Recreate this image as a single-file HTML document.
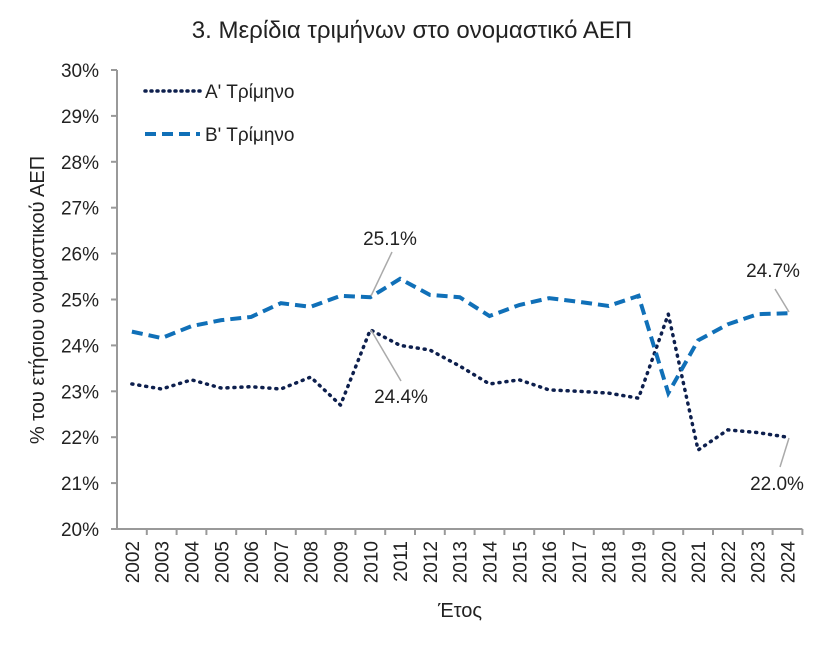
<!DOCTYPE html>
<html><head><meta charset="utf-8"><style>
body{margin:0;background:#fff;}
svg text{font-family:"Liberation Sans",sans-serif;fill:#222;}
</style></head><body>
<svg width="827" height="649" xmlns="http://www.w3.org/2000/svg">
<text x="412" y="38" text-anchor="middle" font-size="24">3. Μερίδια τριμήνων στο ονομαστικό ΑΕΠ</text>
<g id="yaxis"></g>
<g id="xaxis"></g>
<text transform="translate(44,300) rotate(-90)" text-anchor="middle" font-size="20">% του ετήσιου ονομαστικού ΑΕΠ</text>
<text x="460" y="617" text-anchor="middle" font-size="20">Έτος</text>
<g>
<line x1="145" y1="91" x2="200" y2="91" stroke="#0d1f4d" stroke-width="3.5" stroke-dasharray="1 5" stroke-linecap="round"/>
<text x="205" y="98" font-size="19">Α' Τρίμηνο</text>
<line x1="145" y1="134" x2="200" y2="134" stroke="#1070b8" stroke-width="4" stroke-dasharray="11 6"/>
<text x="205" y="141" font-size="19">Β' Τρίμηνο</text>
</g>
<g id="series"></g>
<g>
<line x1="371" y1="296" x2="392" y2="252" stroke="#aaa" stroke-width="1.5"/>
<text x="390" y="245" text-anchor="middle" font-size="19">25.1%</text>
<line x1="371" y1="330" x2="401" y2="381" stroke="#aaa" stroke-width="1.5"/>
<text x="401" y="403" text-anchor="middle" font-size="19">24.4%</text>
<line x1="775" y1="289" x2="789" y2="312" stroke="#aaa" stroke-width="1.5"/>
<text x="773" y="277" text-anchor="middle" font-size="19">24.7%</text>
<line x1="780" y1="467" x2="789" y2="438" stroke="#aaa" stroke-width="1.5"/>
<text x="777" y="490" text-anchor="middle" font-size="19">22.0%</text>
</g>
</svg>
<script>
const years=["2002","2003","2004","2005","2006","2007","2008","2009","2010","2011","2012","2013","2014","2015","2016","2017","2018","2019","2020","2021","2022","2023","2024"];
const q1=[23.16,23.05,23.25,23.07,23.1,23.05,23.31,22.7,24.34,24.0,23.9,23.55,23.16,23.25,23.03,23.0,22.96,22.85,24.68,21.72,22.16,22.1,22.0];
const q2=[24.3,24.16,24.42,24.55,24.62,24.92,24.84,25.08,25.05,25.45,25.1,25.05,24.64,24.88,25.03,24.95,24.86,25.08,22.96,24.11,24.46,24.68,24.7];
const yTicks=[20,21,22,23,24,25,26,27,28,29,30];
const NS="http://www.w3.org/2000/svg";
const x0=117,step=29.8,yTop=70,yBot=529,yMin=20,yMax=30;
const X=i=>x0+step*(i+0.5);
const Y=v=>yBot-(v-yMin)/(yMax-yMin)*(yBot-yTop);
function mk(t,a,p){const e=document.createElementNS(NS,t);for(const k in a)e.setAttribute(k,a[k]);p.appendChild(e);return e;}
const ya=document.getElementById('yaxis'),xa=document.getElementById('xaxis'),se=document.getElementById('series');
mk('line',{x1:x0,y1:yTop,x2:x0,y2:yBot,stroke:'#999','stroke-width':2},ya);
yTicks.forEach(v=>{
 mk('line',{x1:x0-6,y1:Y(v),x2:x0,y2:Y(v),stroke:'#999','stroke-width':2},ya);
 const t=mk('text',{x:99,y:Y(v)+7,'text-anchor':'end','font-size':19},ya);
 
 
 t.textContent=v+'%';
});
mk('line',{x1:x0,y1:yBot,x2:x0+step*years.length,y2:yBot,stroke:'#999','stroke-width':2},xa);
years.forEach((yr,i)=>{
 mk('line',{x1:x0+step*(i+1),y1:yBot,x2:x0+step*(i+1),y2:yBot+6,stroke:'#999','stroke-width':2},xa);
 const t=mk('text',{transform:`translate(${X(i)+7},541) rotate(-90)`,'text-anchor':'end','font-size':19},xa);
 
 
 t.textContent=yr;
});
const p1=mk('polyline',{points:q1.map((v,i)=>X(i)+','+Y(v)).join(' '),fill:'none',stroke:'#0d1f4d','stroke-width':3.5,'stroke-dasharray':'1 6','stroke-linecap':'round'},se);


const p2=mk('polyline',{points:q2.map((v,i)=>X(i)+','+Y(v)).join(' '),fill:'none',stroke:'#1070b8','stroke-width':4,'stroke-dasharray':'11 6'},se);


</script>
</body></html>
